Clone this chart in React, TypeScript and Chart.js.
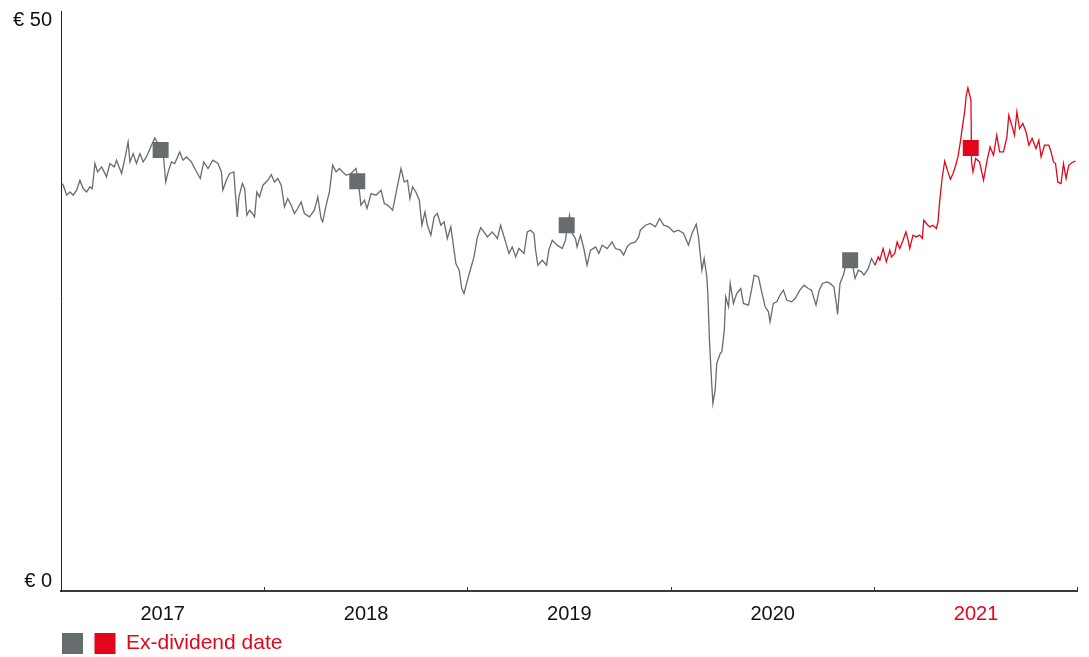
import { useEffect, useRef } from 'react';
import { Chart, registerables } from 'chart.js';

Chart.register(...registerables);

const START_YEAR = 2017;
const END_YEAR = 2022;
const yearLabels = ['2017', '2018', '2019', '2020', '2021'];
const highlightYear = '2021';
const yAxisLabels = ['€ 0', '€ 50'];
const legendText = 'Ex-dividend date';

// time in years since 1 Jan 2017
const priceTimes = [
  0.003, 0.011, 0.028, 0.044, 0.060, 0.077, 0.093, 0.109, 0.126, 0.142, 0.154, 0.167, 0.180, 0.200, 0.224, 0.240,
  0.262, 0.273, 0.298, 0.314, 0.330, 0.339, 0.355, 0.371, 0.388, 0.404, 0.420, 0.445, 0.461, 0.477, 0.494, 0.505,
  0.515, 0.527, 0.543, 0.559, 0.584, 0.600, 0.617, 0.641, 0.658, 0.685, 0.702, 0.723, 0.747, 0.772, 0.789, 0.796,
  0.813, 0.829, 0.850, 0.857, 0.867, 0.875, 0.892, 0.903, 0.914, 0.927, 0.941, 0.952, 0.963, 0.976, 0.993,
  1.017, 1.034, 1.050, 1.066, 1.083, 1.099, 1.115, 1.132, 1.148, 1.164, 1.181, 1.197, 1.222, 1.246, 1.263, 1.279,
  1.287, 1.304, 1.320, 1.336, 1.353, 1.369, 1.385, 1.402, 1.426, 1.451, 1.467, 1.475, 1.492, 1.505, 1.525, 1.549,
  1.574, 1.590, 1.606, 1.631, 1.647, 1.672, 1.688, 1.704, 1.716, 1.729, 1.745, 1.762, 1.775, 1.790, 1.802, 1.819,
  1.835, 1.851, 1.868, 1.884, 1.900, 1.917, 1.933, 1.942, 1.958, 1.971, 1.982, 1.999,
  2.015, 2.031, 2.048, 2.064, 2.080, 2.097, 2.121, 2.146, 2.162, 2.179, 2.203, 2.219, 2.236, 2.252, 2.277, 2.293,
  2.310, 2.326, 2.334, 2.345, 2.367, 2.388, 2.399, 2.416, 2.440, 2.465, 2.481, 2.489, 2.501, 2.514, 2.530, 2.538,
  2.555, 2.571, 2.587, 2.604, 2.629, 2.645, 2.661, 2.686, 2.710, 2.727, 2.751, 2.767, 2.784, 2.800, 2.825, 2.841,
  2.849, 2.874, 2.898, 2.923, 2.944, 2.964, 2.988,
  3.013, 3.037, 3.062, 3.086, 3.103, 3.124, 3.135, 3.152, 3.163, 3.176, 3.181, 3.189, 3.201, 3.206, 3.217, 3.225,
  3.242, 3.250, 3.262, 3.269, 3.283, 3.291, 3.307, 3.323, 3.343, 3.356, 3.381, 3.397, 3.409, 3.430, 3.446, 3.463,
  3.479, 3.487, 3.503, 3.520, 3.536, 3.553, 3.569, 3.593, 3.610, 3.634, 3.654, 3.675, 3.691, 3.713, 3.729, 3.745,
  3.765, 3.782, 3.801, 3.814, 3.819, 3.831, 3.847, 3.864, 3.888, 3.905, 3.921, 3.937, 3.949, 3.970, 3.986,
  4.003, 4.019, 4.027, 4.043, 4.059, 4.076, 4.084, 4.100, 4.112, 4.125, 4.141, 4.155, 4.166, 4.174, 4.190, 4.206,
  4.223, 4.236, 4.243, 4.256, 4.272, 4.288, 4.305, 4.313, 4.321, 4.333, 4.346, 4.362, 4.374, 4.387, 4.400, 4.411,
  4.423, 4.433, 4.444, 4.452, 4.460, 4.469, 4.475, 4.478, 4.485, 4.498, 4.517, 4.537, 4.553, 4.569, 4.586, 4.602,
  4.616, 4.635, 4.652, 4.661, 4.678, 4.689, 4.701, 4.714, 4.730, 4.746, 4.760, 4.776, 4.795, 4.809, 4.820, 4.837,
  4.858, 4.869, 4.881, 4.891, 4.902, 4.918, 4.930, 4.943, 4.956, 4.972, 4.989,
];

const prices = [
  35.15, 35.0, 34.14, 34.42, 34.14, 34.57, 35.43, 34.71, 34.42, 34.85, 34.71, 36.87, 36.15, 36.58, 35.72, 36.87,
  36.58, 37.16, 36.01, 37.3, 38.73, 37.01, 37.73, 36.87, 37.73, 37.01, 37.44, 38.45, 39.08, 38.59, 38.45, 37.3,
  35.28, 36.15, 37.01, 36.87, 37.87, 37.16, 37.44, 37.01, 36.44, 35.58, 37.01, 36.44, 37.16, 36.87, 36.15, 34.57,
  35.43, 36.01, 36.15, 34.42, 32.27, 33.99, 35.15, 34.71, 32.41, 32.84, 32.56, 32.27, 34.42, 33.99, 35.0,
  35.43, 35.92, 35.28, 35.58, 35.0, 33.13, 33.85, 33.28, 32.56, 32.99, 33.56, 32.56, 32.27, 32.84, 33.99, 32.13,
  31.84, 33.28, 34.42, 36.72, 36.15, 36.44, 36.15, 35.86, 36.01, 36.44, 34.57, 33.28, 33.71, 32.99, 34.28, 34.14,
  34.57, 33.42, 33.28, 32.84, 34.28, 36.44, 35.28, 35.43, 33.85, 34.85, 34.42, 33.71, 31.55, 32.7, 31.55, 30.69,
  32.27, 32.56, 31.55, 31.84, 30.41, 31.41, 29.4, 28.25, 27.67, 26.09, 25.66, 26.81,
  27.82, 28.82, 30.54, 31.35, 30.97, 30.54, 30.97, 30.41, 31.55, 30.54, 29.11, 29.68, 28.82, 29.54, 29.11, 30.97,
  31.12, 30.84, 29.4, 28.1, 28.53, 28.1, 29.4, 30.26, 29.83, 29.54, 30.26, 31.27, 32.41, 30.84, 30.41, 29.68,
  30.69, 29.54, 28.1, 29.4, 29.68, 29.11, 29.83, 29.54, 30.11, 29.54, 29.4, 28.97, 29.68, 29.97, 30.11, 30.54,
  31.12, 31.55, 31.7, 31.41, 32.13, 31.55, 31.41,
  30.97, 31.12, 30.84, 29.83, 30.84, 31.64, 30.54, 27.67, 28.68, 27.09, 25.66, 21.64, 17.61, 16.18, 17.33, 19.63,
  20.49, 20.63, 22.5, 25.37, 24.51, 26.53, 24.8, 25.66, 26.09, 24.8, 24.66, 26.09, 27.24, 27.09, 25.8, 24.51,
  24.08, 23.22, 24.8, 24.94, 25.52, 25.95, 25.09, 24.94, 25.23, 25.95, 26.38, 26.09, 25.95, 24.66, 25.95, 26.53,
  26.66, 26.53, 26.23, 24.66, 23.85, 26.53, 27.24, 28.39, 28.53, 26.96, 27.67, 27.53, 27.24, 27.82, 28.68,
  28.1, 28.82, 28.53, 29.54, 28.39, 29.4, 28.82, 29.11, 30.11, 29.54, 30.26, 30.97, 30.26, 29.54, 30.69, 30.54,
  30.69, 30.41, 31.98, 31.7, 31.41, 31.55, 31.27, 31.84, 33.56, 35.58, 37.07, 36.15, 35.52, 36.01, 36.72, 37.44,
  38.73, 40.03, 41.32, 42.76, 43.39, 42.76, 42.33, 37.0, 36.15, 37.3, 37.01, 35.43, 37.01, 38.3, 37.59, 39.31,
  37.87, 37.87, 39.16, 41.03, 40.03, 39.31, 41.32, 39.89, 40.32, 39.59, 38.45, 39.03, 38.16, 38.88, 37.44, 38.45,
  38.45, 37.87, 37.01, 36.87, 35.28, 35.15, 36.87, 35.58, 36.72, 36.96, 37.07,
];

const exDividendTimes = [0.49, 1.457, 2.487, 3.881, 4.474];
const exDividendPrices = [38.03, 35.34, 31.55, 28.53, 38.2];

const GRAY = '#676c6e';
const RED = '#e3061b';
const FONT = "'Liberation Sans', Arial, Helvetica, sans-serif";

export default function App() {
  const canvasRef = useRef<HTMLCanvasElement | null>(null);

  useEffect(() => {
    document.body.style.overflow = 'hidden';
    const canvas = canvasRef.current;
    if (!canvas) return;
    const highlightStart = START_YEAR + yearLabels.indexOf(highlightYear);
    const lineData = priceTimes.map((t, i) => ({ x: START_YEAR + t, y: prices[i] }));
    const divData = exDividendTimes.map((t, i) => ({ x: START_YEAR + t, y: exDividendPrices[i] }));
    const divColors = divData.map((p) => (p.x >= highlightStart ? RED : GRAY));

    const chart = new Chart(canvas, {
      type: 'line',
      data: {
        datasets: [
          {
            label: 'price',
            data: lineData,
            borderColor: GRAY,
            borderWidth: 1.3,
            pointRadius: 0,
            tension: 0,
            order: 2,
            segment: {
              borderColor: (ctx: any) => (ctx.p0.parsed.x >= highlightStart ? RED : GRAY),
            },
          },
          {
            label: legendText,
            type: 'scatter',
            data: divData,
            pointStyle: 'rect',
            pointRadius: 11.3,
            pointBackgroundColor: divColors,
            pointBorderWidth: 0,
            pointBorderColor: divColors,
            order: 1,
          } as any,
        ],
      },
      options: {
        animation: false,
        responsive: true,
        maintainAspectRatio: false,
        events: [],
        layout: { padding: { top: 11, right: 9, left: 0, bottom: 0 } },
        scales: {
          x: {
            type: 'linear',
            position: 'bottom',
            min: START_YEAR,
            max: END_YEAR,
            afterBuildTicks: (s: any) => {
              const t = [];
              for (let y = START_YEAR; y <= END_YEAR; y++) t.push({ value: y });
              s.ticks = t;
            },
            ticks: { display: false },
            grid: { display: true, drawOnChartArea: false, drawTicks: true, tickLength: -4, color: '#333', lineWidth: 1 },
            border: { display: true, color: '#3a3a3a', width: 2 },
            afterFit: (s: any) => { s.height = 0; s.paddingLeft = 0; s.paddingRight = 0; },
          },
          xl: {
            type: 'linear',
            position: 'bottom',
            min: START_YEAR,
            max: END_YEAR,
            afterBuildTicks: (s: any) => {
              s.ticks = yearLabels.map((_, i) => ({ value: START_YEAR + i + 0.5 }));
            },
            ticks: {
              autoSkip: false,
              maxRotation: 0,
              padding: 11,
              font: { family: FONT, size: 20 },
              color: (ctx: any) => (yearLabels[ctx.index] === highlightYear ? RED : '#111'),
              callback: (_v: any, i: number) => yearLabels[i],
            },
            grid: { display: false, drawTicks: false },
            border: { display: false },
            afterFit: (s: any) => { s.height = 41; s.paddingLeft = 0; s.paddingRight = 0; },
          },
          y: {
            type: 'linear',
            position: 'left',
            min: 0,
            max: 50,
            afterBuildTicks: (s: any) => {
              s.ticks = [{ value: 0.8 }, { value: 49.2 }];
            },
            ticks: {
              padding: 9,
              font: { family: FONT, size: 20 },
              color: '#111',
              callback: (_v: any, i: number) => yAxisLabels[i],
            },
            grid: { display: false, drawTicks: false },
            border: { display: true, color: '#222', width: 1 },
            afterFit: (s: any) => { s.width = 61; s.paddingTop = 0; s.paddingBottom = 0; },
          },
        },
        plugins: {
          tooltip: { enabled: false },
          legend: {
            display: true,
            position: 'bottom',
            align: 'start',
            fullSize: false,
            labels: {
              boxWidth: 21,
              boxHeight: 21,
              padding: 1,
              color: RED,
              font: { family: FONT, size: 21 },
              generateLabels: () => [
                { text: '', fillStyle: GRAY, strokeStyle: GRAY, lineWidth: 0, hidden: false, datasetIndex: 1 },
                { text: legendText, fillStyle: RED, strokeStyle: RED, lineWidth: 0, hidden: false, datasetIndex: 1, fontColor: RED },
              ],
            },
          },
        },
      },
    } as any);

    return () => chart.destroy();
  }, []);

  return (
    <div style={{ position: 'fixed', left: 0, top: 0, width: 1089, height: 664 }}>
      <canvas ref={canvasRef} />
    </div>
  );
}
